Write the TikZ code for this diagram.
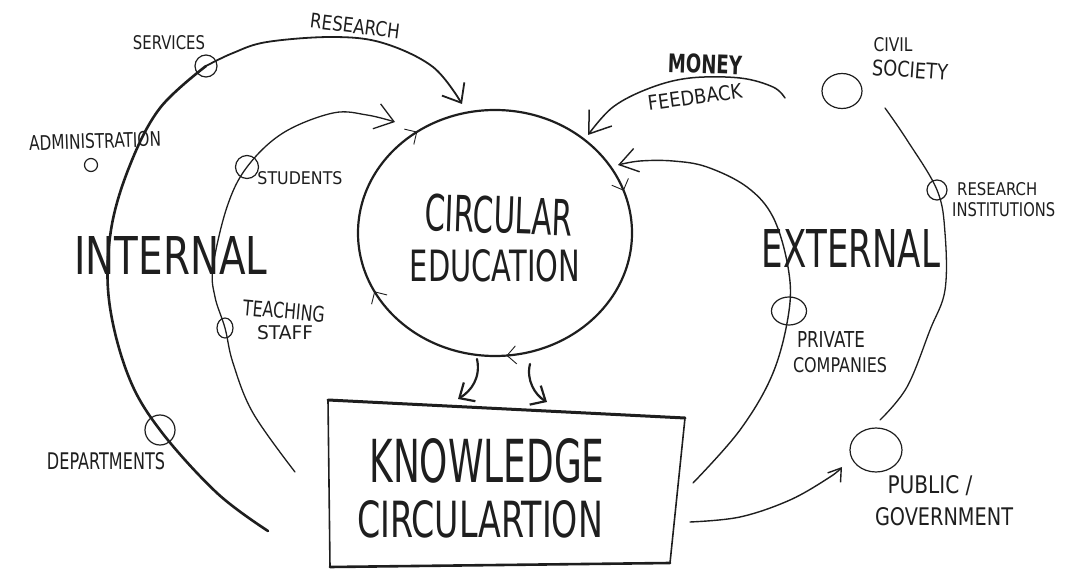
\documentclass[tikz,border=0pt]{standalone}
\usepackage{graphicx}
\usepackage{fontspec}
\newfontfamily\hand{DejaVu Sans}
% hand-lettered caption squeezed to a given width and cap height (pt)
\newcommand\scribble[3]{\resizebox{#1pt}{#2pt}{\hand #3}}
\usetikzlibrary{arrows.meta,decorations.markings,shapes.geometric}
\definecolor{pencil}{HTML}{1E1E1E}
\begin{document}
\begin{tikzpicture}[x=1pt,y=-1pt,line cap=round,line join=round,
  ink/.style={draw=pencil},
  hub/.style={draw=pencil,circle,line width=1.2pt,inner sep=0pt},
  word/.style={inner sep=0pt,text=pencil},
  barb/.style 2 args={-{Straight Barb[length=#1,width=#2]}},
  tick/.style={decoration={markings,
      mark=at position 0.236 with {\arrow[line width=0.9pt]{Straight Barb[length=9pt,width=18pt]}},
      mark=at position 0.425 with {\arrow[line width=0.9pt]{Straight Barb[length=9pt,width=18pt]}},
      mark=at position 0.650 with {\arrow[line width=0.9pt]{Straight Barb[length=9pt,width=18pt]}},
      mark=at position 0.947 with {\arrow[line width=0.9pt]{Straight Barb[length=9pt,width=18pt]}}},
    postaction={decorate}}]
\useasboundingbox (0,0) rectangle (1080,569);

% ---- central loop: circular education
\node[ellipse,minimum width=274pt,minimum height=246pt,inner sep=0pt] (ce) at (495,233) {};
\draw[ink,line width=2.2pt,tick] (ce.center) ellipse [x radius=137, y radius=123];
\node[word,rotate=-2] (tCirc1) at (499,215) {\scribble{148}{37}{CIRCULAR}};
\node[word] (tCirc2) at (495,266) {\scribble{170}{32}{EDUCATION}};

% ---- knowledge circulation box
\coordinate (kTL) at (328,400);
\coordinate (kTR) at (685,418);
\coordinate (kBR) at (670,563);
\coordinate (kBL) at (330,567);
\draw[ink,line width=3pt] (kTL) -- (kTR);
\draw[ink,line width=1.6pt] (kTR) -- (kBR);
\draw[ink,line width=2.6pt] (kBR) -- (kBL);
\draw[ink,line width=1.6pt] (kBL) -- (kTL);
\node[word] (tKnow1) at (487,461) {\scribble{235}{44}{KNOWLEDGE}};
\node[word] (tKnow2) at (480,519) {\scribble{246}{37}{CIRCULARTION}};

% ---- flows from the loop into the box
\coordinate (ceOutA) at (477,359);
\coordinate (kInA) at (458,399);
\coordinate (ceOutB) at (530,364);
\coordinate (kInB) at (547,402);
\draw[ink,line width=2.2pt,barb={12pt}{22pt}] (ceOutA) .. controls (481,378) and (471,391) .. (kInA);
\draw[ink,line width=2.2pt,barb={12pt}{22pt}] (ceOutB) .. controls (526,380) and (535,395) .. (kInB);

% ---- internal actors
\node[hub,minimum size=22pt] (svc) at (206,66) {};
\node[hub,minimum size=13pt] (adm) at (91,165) {};
\node[hub,minimum size=23pt] (stu) at (247,167) {};
\node[hub,ellipse,minimum width=16pt,minimum height=20pt] (tch) at (225,328) {};
\node[hub,minimum size=30pt] (dep) at (160,430) {};

\coordinate (outerEnd) at (268,531);
\coordinate (ceTop) at (462,104);
\draw[ink,line width=2.6pt] plot[smooth,tension=0.6] coordinates
  {(outerEnd) (217,493) (dep) (128,375) (109,300) (111,230) (130,165) (160,108) (svc)};
\draw[ink,line width=1.8pt,barb={16pt}{26pt}] plot[smooth,tension=0.6] coordinates
  {(svc) (233,53) (267,42) (333,37) (383,43) (433,67) (ceTop)};

\coordinate (innerEnd) at (295,472);
\coordinate (ceTopLeft) at (395,122);
\draw[ink,line width=1.3pt,barb={18pt}{26pt}] plot[smooth,tension=0.6] coordinates
  {(innerEnd) (253,413) (233,363) (tch) (215,297) (213,267) (227,207) (stu) (283,133) (333,113) (367,115) (ceTopLeft)};

\node[word] (tServices) at (169,43) {\scribble{72}{14}{SERVICES}};
\node[word,rotate=-7] (tResearch) at (355,26) {\scribble{90}{15}{RESEARCH}};
\node[word,rotate=2] (tAdmin) at (95,141) {\scribble{132}{15}{ADMINISTRATION}};
\node[word] (tStudents) at (300,178) {\scribble{85}{13}{STUDENTS}};
\node[word,rotate=-5] (tTeach1) at (284,311) {\scribble{82}{16}{TEACHING}};
\node[word] (tTeach2) at (285,333) {\scribble{56}{14}{STAFF}};
\node[word] (tDept) at (106,461) {\scribble{118}{17}{DEPARTMENTS}};
\node[word] (tInternal) at (171,255) {\scribble{193}{38}{INTERNAL}};

% ---- external actors
\node[hub,ellipse,minimum width=40pt,minimum height=35pt] (civ) at (842,91) {};
\node[hub,minimum size=20pt] (ri) at (937,190) {};
\node[hub,ellipse,minimum width=35pt,minimum height=28pt] (pc) at (789,311) {};
\node[hub,ellipse,minimum width=52pt,minimum height=44pt] (pg) at (876,450) {};

\coordinate (rimTop) at (885,108);
\coordinate (rimEnd) at (880,420);
\draw[ink,line width=1.3pt] plot[smooth,tension=0.6] coordinates
  {(rimTop) (907,140) (ri) (945,233) (945,290) (930,330) (907,387) (rimEnd)};

\coordinate (kOutA) at (693,483);
\coordinate (ceRight) at (618,165);
\draw[ink,line width=1.4pt,barb={18pt}{24pt}] plot[smooth,tension=0.6] coordinates
  {(kOutA) (740,430) (773,373) (pc) (788,267) (773,217) (747,187) (707,167) (673,161) (640,161) (ceRight)};

\coordinate (fundStart) at (785,98);
\coordinate (ceUpRight) at (588,135);
\draw[ink,line width=1.5pt,barb={20pt}{28pt}] plot[smooth,tension=0.6] coordinates
  {(fundStart) (773,87) (740,78) (690,78) (650,88) (613,107) (ceUpRight)};

\coordinate (kOutB) at (690,522);
\coordinate (pgIn) at (842,467);
\draw[ink,line width=1.4pt,barb={12pt}{16pt}] plot[smooth,tension=0.6] coordinates
  {(kOutB) (740,517) (790,500) (830,477) (pgIn)};

\node[word,rotate=-2] (tMoney) at (705,64) {\resizebox{74pt}{19pt}{\hand\bfseries MONEY}};
\node[word,rotate=8] (tFeed) at (695,97) {\scribble{95}{15}{FEEDBACK}};
\node[word] (tCivil1) at (893,45) {\scribble{39}{14}{CIVIL}};
\node[word,rotate=-4] (tCivil2) at (910,70) {\scribble{76}{16}{SOCIETY}};
\node[word,anchor=west] (tRI1) at (957,189) {\scribble{80}{13}{RESEARCH}};
\node[word,anchor=west] (tRI2) at (952,210) {\scribble{103}{14}{INSTITUTIONS}};
\node[word] (tExternal) at (851,248) {\scribble{178}{38}{EXTERNAL}};
\node[word] (tPriv1) at (831,340) {\scribble{68}{16}{PRIVATE}};
\node[word] (tPriv2) at (840,365) {\scribble{94}{15}{COMPANIES}};
\node[word] (tPub1) at (930,486) {\scribble{85}{18}{PUBLIC /}};
\node[word] (tPub2) at (944,517) {\scribble{138}{18}{GOVERNMENT}};
\end{tikzpicture}
\end{document}
